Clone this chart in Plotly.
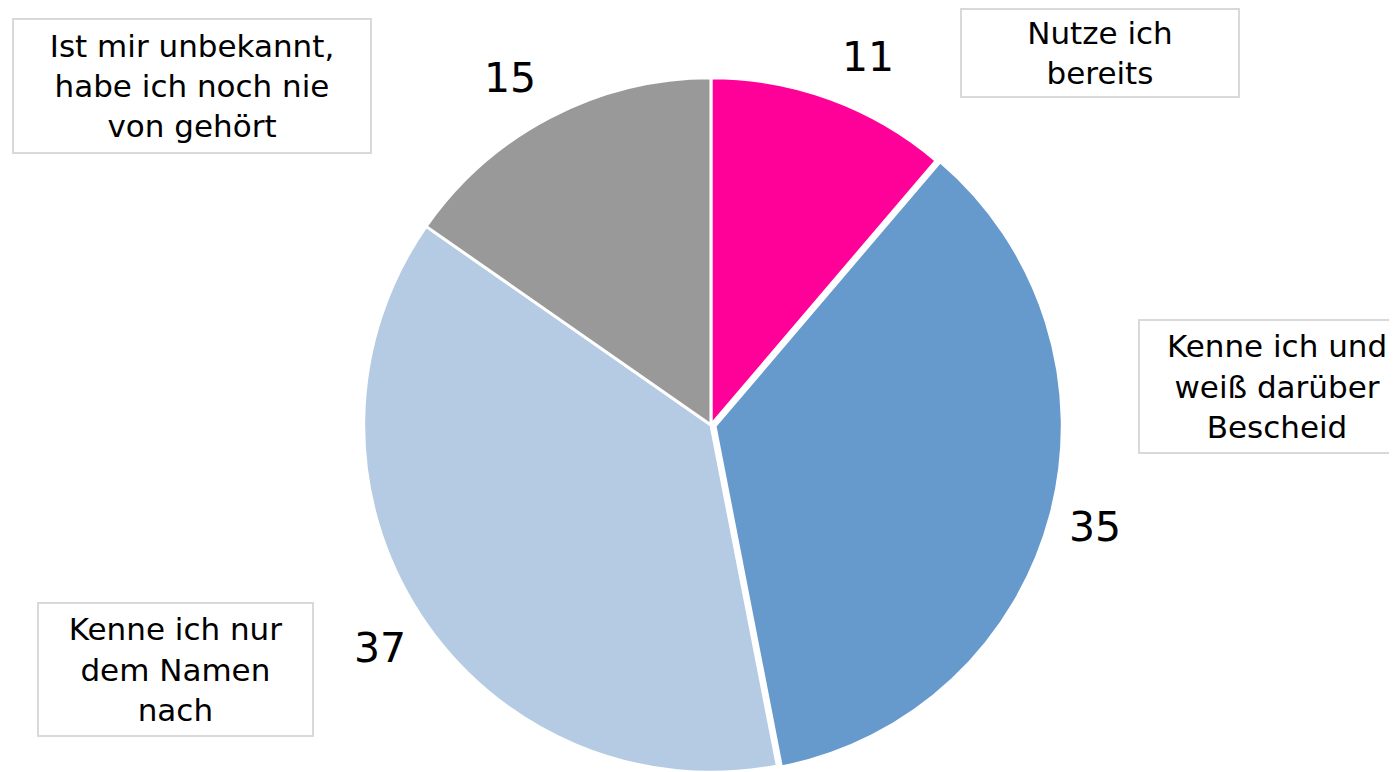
import plotly.graph_objects as go

categories = [
    "Nutze ich<br>bereits",
    "Kenne ich und<br>weiß darüber<br>Bescheid",
    "Kenne ich nur<br>dem Namen<br>nach",
    "Ist mir unbekannt,<br>habe ich noch nie<br>von gehört",
]
values = [11, 35, 37, 15]
colors = ["#FF0099", "#6699CC", "#B4CBE3", "#999999"]
pulls = [0, 0.012, 0, 0]

# page is drawn with the browser's 8px body margin, so positions are shifted by -8
box_pos = [(1092, 45), (1269, 378), (167, 661), (184, 78)]
box_size = [(280, 90), (278, 135), (277, 135), (360, 136)]
num_pos = [(860, 49), (1087, 519), (372, 640), (502, 70)]

W, H = 1397, 772
FONT = "Verdana, DejaVu Sans, sans-serif"

fig = go.Figure()

fig.add_trace(
    go.Pie(
        labels=categories,
        values=values,
        sort=False,
        direction="clockwise",
        rotation=0,
        pull=pulls,
        marker=dict(colors=colors, line=dict(color="white", width=3)),
        textinfo="none",
        hoverinfo="label+value",
        showlegend=False,
        domain=dict(x=[0.2432, 0.7632], y=[0.0045, 0.915]),
    )
)

for v, (px, py) in zip(values, num_pos):
    fig.add_annotation(
        x=px / W, y=1 - py / H, xref="paper", yref="paper",
        text=str(v), showarrow=False,
        font=dict(family=FONT, size=41, color="black"),
        xanchor="center", yanchor="middle",
    )

for text, (bx, by), (bw, bh) in zip(categories, box_pos, box_size):
    fig.add_annotation(
        x=bx / W, y=1 - by / H, xref="paper", yref="paper",
        text=text, showarrow=False,
        font=dict(family=FONT, size=31, color="black"),
        xanchor="center", yanchor="middle",
        width=bw - 4, height=bh - 4, align="center", valign="middle",
        bordercolor="#D9D9D9", borderwidth=2, borderpad=0,
        bgcolor="white",
    )

fig.update_layout(
    width=W,
    height=H,
    margin=dict(l=0, r=0, t=0, b=0),
    paper_bgcolor="white",
    plot_bgcolor="white",
)

fig.write_html("out.html")
